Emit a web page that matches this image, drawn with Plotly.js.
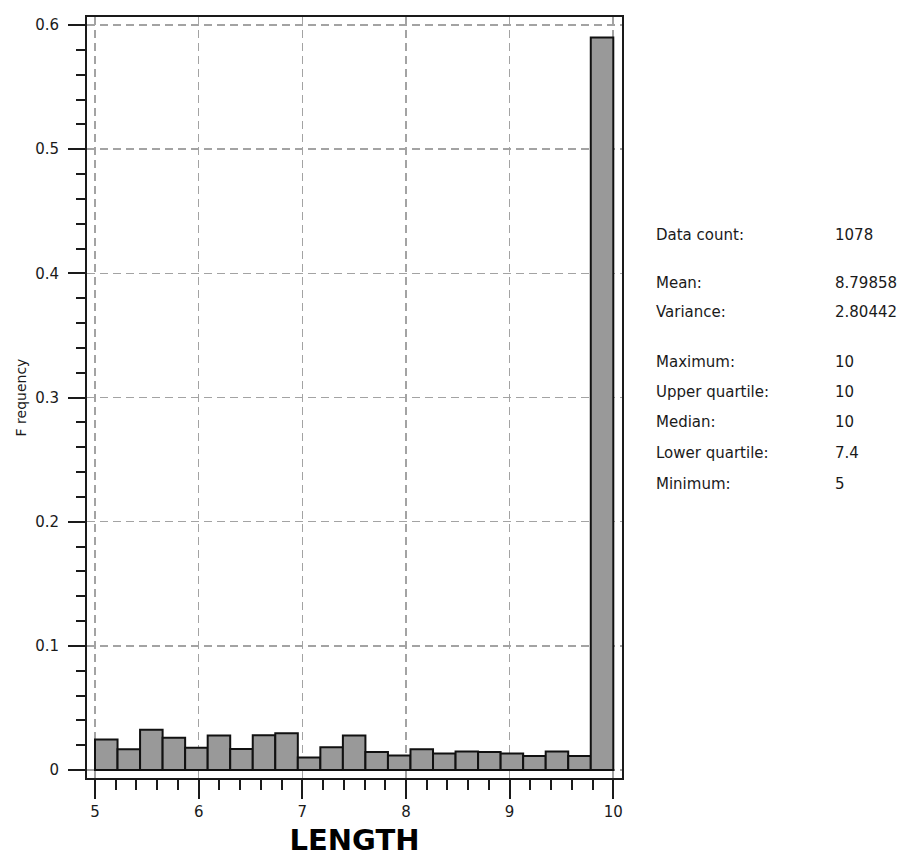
<!DOCTYPE html>
<html>
<head>
<meta charset="utf-8">
<script src="https://cdn.plot.ly/plotly-3.0.1.min.js"></script>
<style>
  html, body { margin: 0; padding: 0; background: #ffffff; }
  #chart { width: 902px; height: 857px; }
</style>
</head>
<body>
<div id="chart"></div>
<script>
// ---- data ----
const binMin = 5;
const binMax = 10;
const frequency = [0.0245, 0.0167, 0.0325, 0.026, 0.018, 0.0277, 0.017, 0.028, 0.0296, 0.010,
                   0.0183, 0.0277, 0.0145, 0.0116, 0.0167, 0.0132, 0.015, 0.0145, 0.0132, 0.0113,
                   0.015, 0.0113, 0.590];
const xTickValues = [5, 6, 7, 8, 9, 10];
const yTickValues = [0, 0.1, 0.2, 0.3, 0.4, 0.5, 0.6];
const statLabels = ["Data count:", "Mean:", "Variance:", "Maximum:", "Upper quartile:", "Median:", "Lower quartile:", "Minimum:"];
const statValues = ["1078", "8.79858", "2.80442", "10", "10", "10", "7.4", "5"];
const xTitle = "LENGTH";
const yTitle = "F requency";

// ---- bins ----
const nBins = frequency.length;
const binWidth = (binMax - binMin) / nBins;
const binCenters = frequency.map((_, i) => binMin + (i + 0.5) * binWidth);

// ---- layout geometry (pixels) ----
const W = 902, H = 857;
const plotL = 87, plotR = 622, plotT = 17, plotB = 778;
const statRowPix = [235, 283, 312, 362, 392, 422, 453, 484];
const statLabelPix = 654, statValuePix = 833;
const px2paperX = p => (p - plotL) / (plotR - plotL);
const px2paperY = p => (plotB - p) / (plotB - plotT);

const font = "DejaVu Sans, Verdana, sans-serif";
const ink = "#1a1a1a";

const annotations = [];
statLabels.forEach((lab, i) => {
  annotations.push({
    xref: "paper", yref: "paper",
    x: px2paperX(statLabelPix), y: px2paperY(statRowPix[i]),
    xanchor: "left", yanchor: "middle", showarrow: false,
    text: lab, font: { family: font, size: 15, color: ink }
  });
  annotations.push({
    xref: "paper", yref: "paper",
    x: px2paperX(statValuePix), y: px2paperY(statRowPix[i]),
    xanchor: "left", yanchor: "middle", showarrow: false,
    text: statValues[i], font: { family: font, size: 15, color: ink }
  });
});

const trace = {
  type: "bar",
  x: binCenters,
  y: frequency,
  width: binWidth,
  marker: { color: "#999999", line: { color: "#111111", width: 2 } },
  hoverinfo: "x+y"
};

const layout = {
  width: W, height: H,
  margin: { l: plotL, r: W - plotR, t: plotT, b: H - plotB, pad: 0 },
  paper_bgcolor: "#ffffff",
  plot_bgcolor: "#ffffff",
  showlegend: false,
  bargap: 0,
  xaxis: {
    range: [4.9228, 10.0839],
    tickmode: "array",
    tickvals: xTickValues,
    ticktext: xTickValues.map(String),
    ticks: "outside", ticklen: 19, tickwidth: 2, tickcolor: "#1a1a1a",
    tickfont: { family: font, size: 15, color: ink },
    showline: true, linecolor: "#1a1a1a", linewidth: 2, mirror: true,
    showgrid: true, gridcolor: "#a3a3a3", gridwidth: 1.6, griddash: "8px,5px",
    zeroline: false,
    minor: { dtick: 0.2, tick0: 5, ticks: "outside", ticklen: 10, tickwidth: 2, tickcolor: "#1a1a1a", showgrid: false },
    title: { text: xTitle, font: { family: font, size: 29, color: "#000000", weight: "bold" }, standoff: 15 }
  },
  yaxis: {
    range: [-0.00644, 0.60644],
    tickmode: "array",
    tickvals: yTickValues,
    ticktext: yTickValues.map(String),
    ticks: "outside", ticklen: 17, tickwidth: 2, tickcolor: "#1a1a1a",
    ticklabelstandoff: 6,
    tickfont: { family: font, size: 15, color: ink },
    showline: true, linecolor: "#1a1a1a", linewidth: 2, mirror: true,
    showgrid: true, gridcolor: "#a3a3a3", gridwidth: 1.6, griddash: "8px,5px",
    zeroline: false,
    minor: { dtick: 0.02, tick0: 0, ticks: "outside", ticklen: 9, tickwidth: 2, tickcolor: "#1a1a1a", showgrid: false },
    title: { text: yTitle, font: { family: font, size: 14, color: ink }, standoff: 5 }
  },
  annotations: annotations
};

Plotly.newPlot("chart", [trace], layout, { displayModeBar: false, staticPlot: true });
</script>
</body>
</html>
